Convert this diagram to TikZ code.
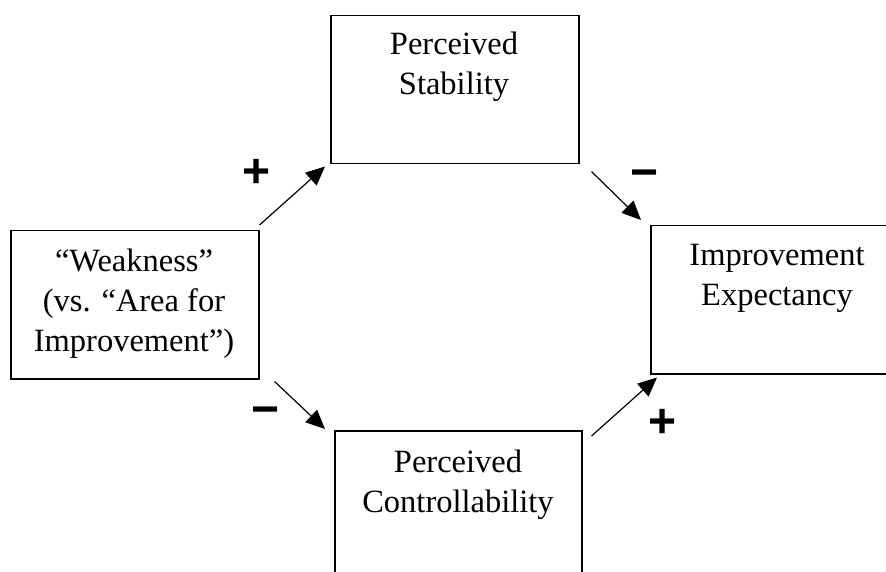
\documentclass[tikz,border=0pt]{standalone}
\usepackage{fontspec}
\setmainfont{Liberation Serif}
\newfontfamily\signfont{Liberation Sans}
\usetikzlibrary{arrows.meta}
\tikzset{
  box/.style={draw=black, line width=1.5pt, minimum width=248pt, minimum height=148pt, anchor=north west, inner sep=0pt},
  boxtext/.style={align=center, anchor=base, inner sep=0pt, font=\fontsize{32.5}{40}\selectfont},
  sign/.style={inner sep=0pt, anchor=center, font=\signfont\bfseries\fontsize{48}{48}\selectfont},
  link/.style={line width=1.2pt, -{Triangle[length=19pt,width=17pt]}}
}
\begin{document}
\begin{tikzpicture}[x=1pt,y=-1pt]
\clip (0,0) rectangle (886,572);
\fill[white] (0,0) rectangle (886,572);
% boxes
\node[box] (weak) at (10,230) {};
\node[box] (stab) at (330,15) {};
\node[box] (expt) at (650,225) {};
\node[box, minimum width=247pt] (ctrl) at (334,430) {};
% texts (anchor base = baseline of last line)
\node[boxtext] (weakt) at (134,351) {“Weakness”\\(vs. “Area for\\Improvement”)};
\node[boxtext] (stabt) at (454,95) {Perceived\\Stability};
\node[boxtext] (exptt) at (777,305) {Improvement\\Expectancy};
\node[boxtext] (ctrlt) at (458,512) {Perceived\\Controllability};
% arrows
\draw[link] ([shift={(0,-5)}]weak.north east) -- ([shift={(-5,2)}]stab.south west);
\draw[link] ([shift={(12,7)}]stab.south east) -- ([shift={(-9,-5)}]expt.north west);
\draw[link] ([shift={(15,2)}]weak.south east) -- ([shift={(-9,-1)}]ctrl.north west);
\draw[link] ([shift={(9,6)}]ctrl.north east) -- ([shift={(7,3)}]expt.south west);
% signs
\node[sign] (s1) at (257,173) {+};
\node[sign] (s2) at (645,179) {−};
\node[sign] (s3) at (266,416) {−};
\node[sign] (s4) at (663,423) {+};
\end{tikzpicture}
\end{document}
